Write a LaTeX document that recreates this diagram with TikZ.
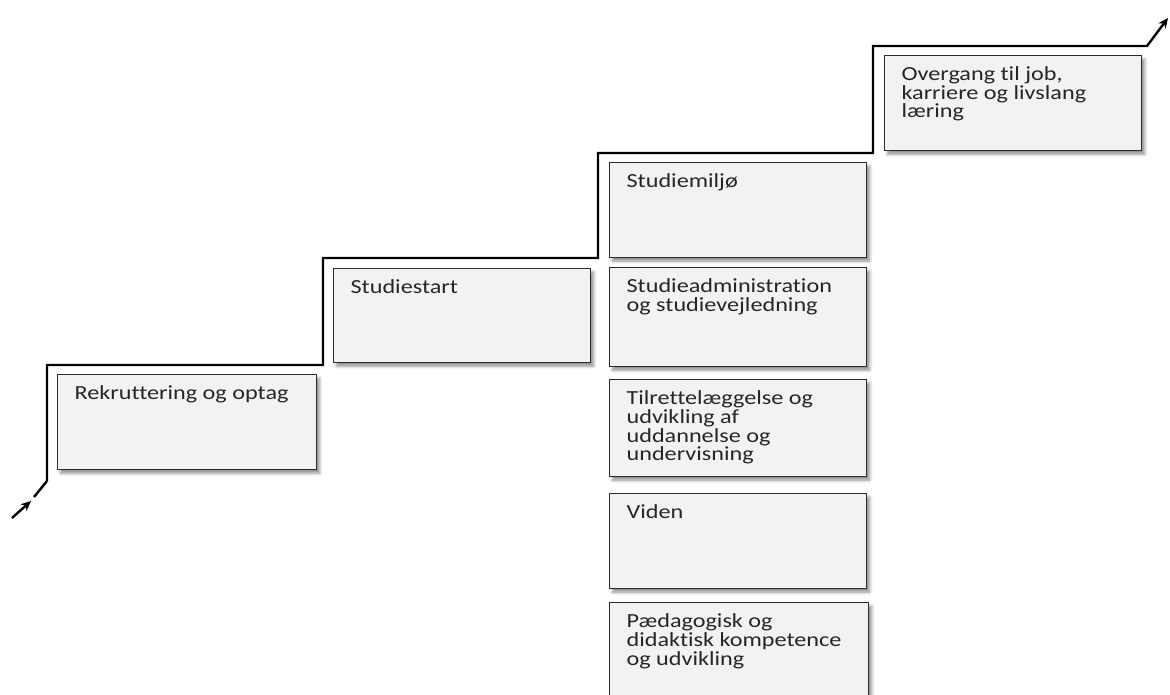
\documentclass[tikz,border=0pt]{standalone}
\usepackage{fontspec}
\setmainfont{Carlito}[Ligatures={NoCommon}]
\usetikzlibrary{shadows.blur,arrows.meta}
\definecolor{boxfill}{HTML}{F2F2F2}
\definecolor{boxline}{HTML}{2B2B2B}
\definecolor{txt}{HTML}{262626}
\tikzset{
  stepbox/.style={draw=boxline, line width=1.2pt, fill=boxfill, anchor=north west,
    inner xsep=17pt, inner ysep=9pt, font=\fontsize{20}{18.7}\selectfont, text=txt,
    blur shadow={shadow xshift=3pt, shadow yshift=-3.5pt, shadow blur radius=3pt, shadow opacity=45}},
  stair/.style={line width=2.4pt, black},
}
% #1 box width, #2 box height, #3 text
\newcommand{\bx}[3]{\scalebox{1.21}[1]{\parbox[t][\dimexpr #2pt-18pt\relax][t]{\dimexpr (#1pt-34pt)*100/121\relax}{\raggedright\rule{0pt}{16pt}#3}}}
\begin{document}
\begin{tikzpicture}[x=1pt,y=-1pt]
\useasboundingbox (0,0) rectangle (1170,695);
\node[stepbox] (rek) at (57,374) {\bx{259}{95}{Rekruttering og optag}};
\node[stepbox] (start) at (333,268) {\bx{257}{94}{Studiestart}};
\node[stepbox] (miljo) at (609,162) {\bx{257}{95}{Studiemiljø}};
\node[stepbox] (admin) at (609,267) {\bx{257}{99}{Studieadministration\\og studievejledning}};
\node[stepbox] (tilr) at (609,379) {\bx{257}{97}{Tilrettelæggelse og\\udvikling af\\uddannelse og\\undervisning}};
\node[stepbox] (viden) at (609,493) {\bx{257}{95}{Viden}};
\node[stepbox] (paed) at (609,602) {\bx{259}{103}{Pædagogisk og\\didaktisk kompetence\\og udvikling}};
\node[stepbox] (overg) at (884,55) {\bx{257}{95}{Overgang til job,\\karriere og livslang\\læring}};
\coordinate (s0) at (47,481);
\coordinate (s1) at (47,365);
\coordinate (s2) at (323,365);
\coordinate (s3) at (323,258);
\coordinate (s4) at (598,258);
\coordinate (s5) at (598,153);
\coordinate (s6) at (873,153);
\coordinate (s7) at (873,46);
\coordinate (s8) at (1147,46);
\coordinate (s9) at (1168,18);
\coordinate (d1) at (34,497);
\coordinate (a0) at (12,518);
\coordinate (a1) at (31,501);
\draw[stair, -{Stealth[length=10pt,width=9pt]}] (s0) -- (s1) -- (s2) -- (s3) -- (s4) -- (s5) -- (s6) -- (s7) -- (s8) -- (s9);
\draw[stair] (s0) -- (d1);
\draw[stair, -{Stealth[length=10pt,width=9pt]}] (a0) -- (a1);
\end{tikzpicture}
\end{document}
